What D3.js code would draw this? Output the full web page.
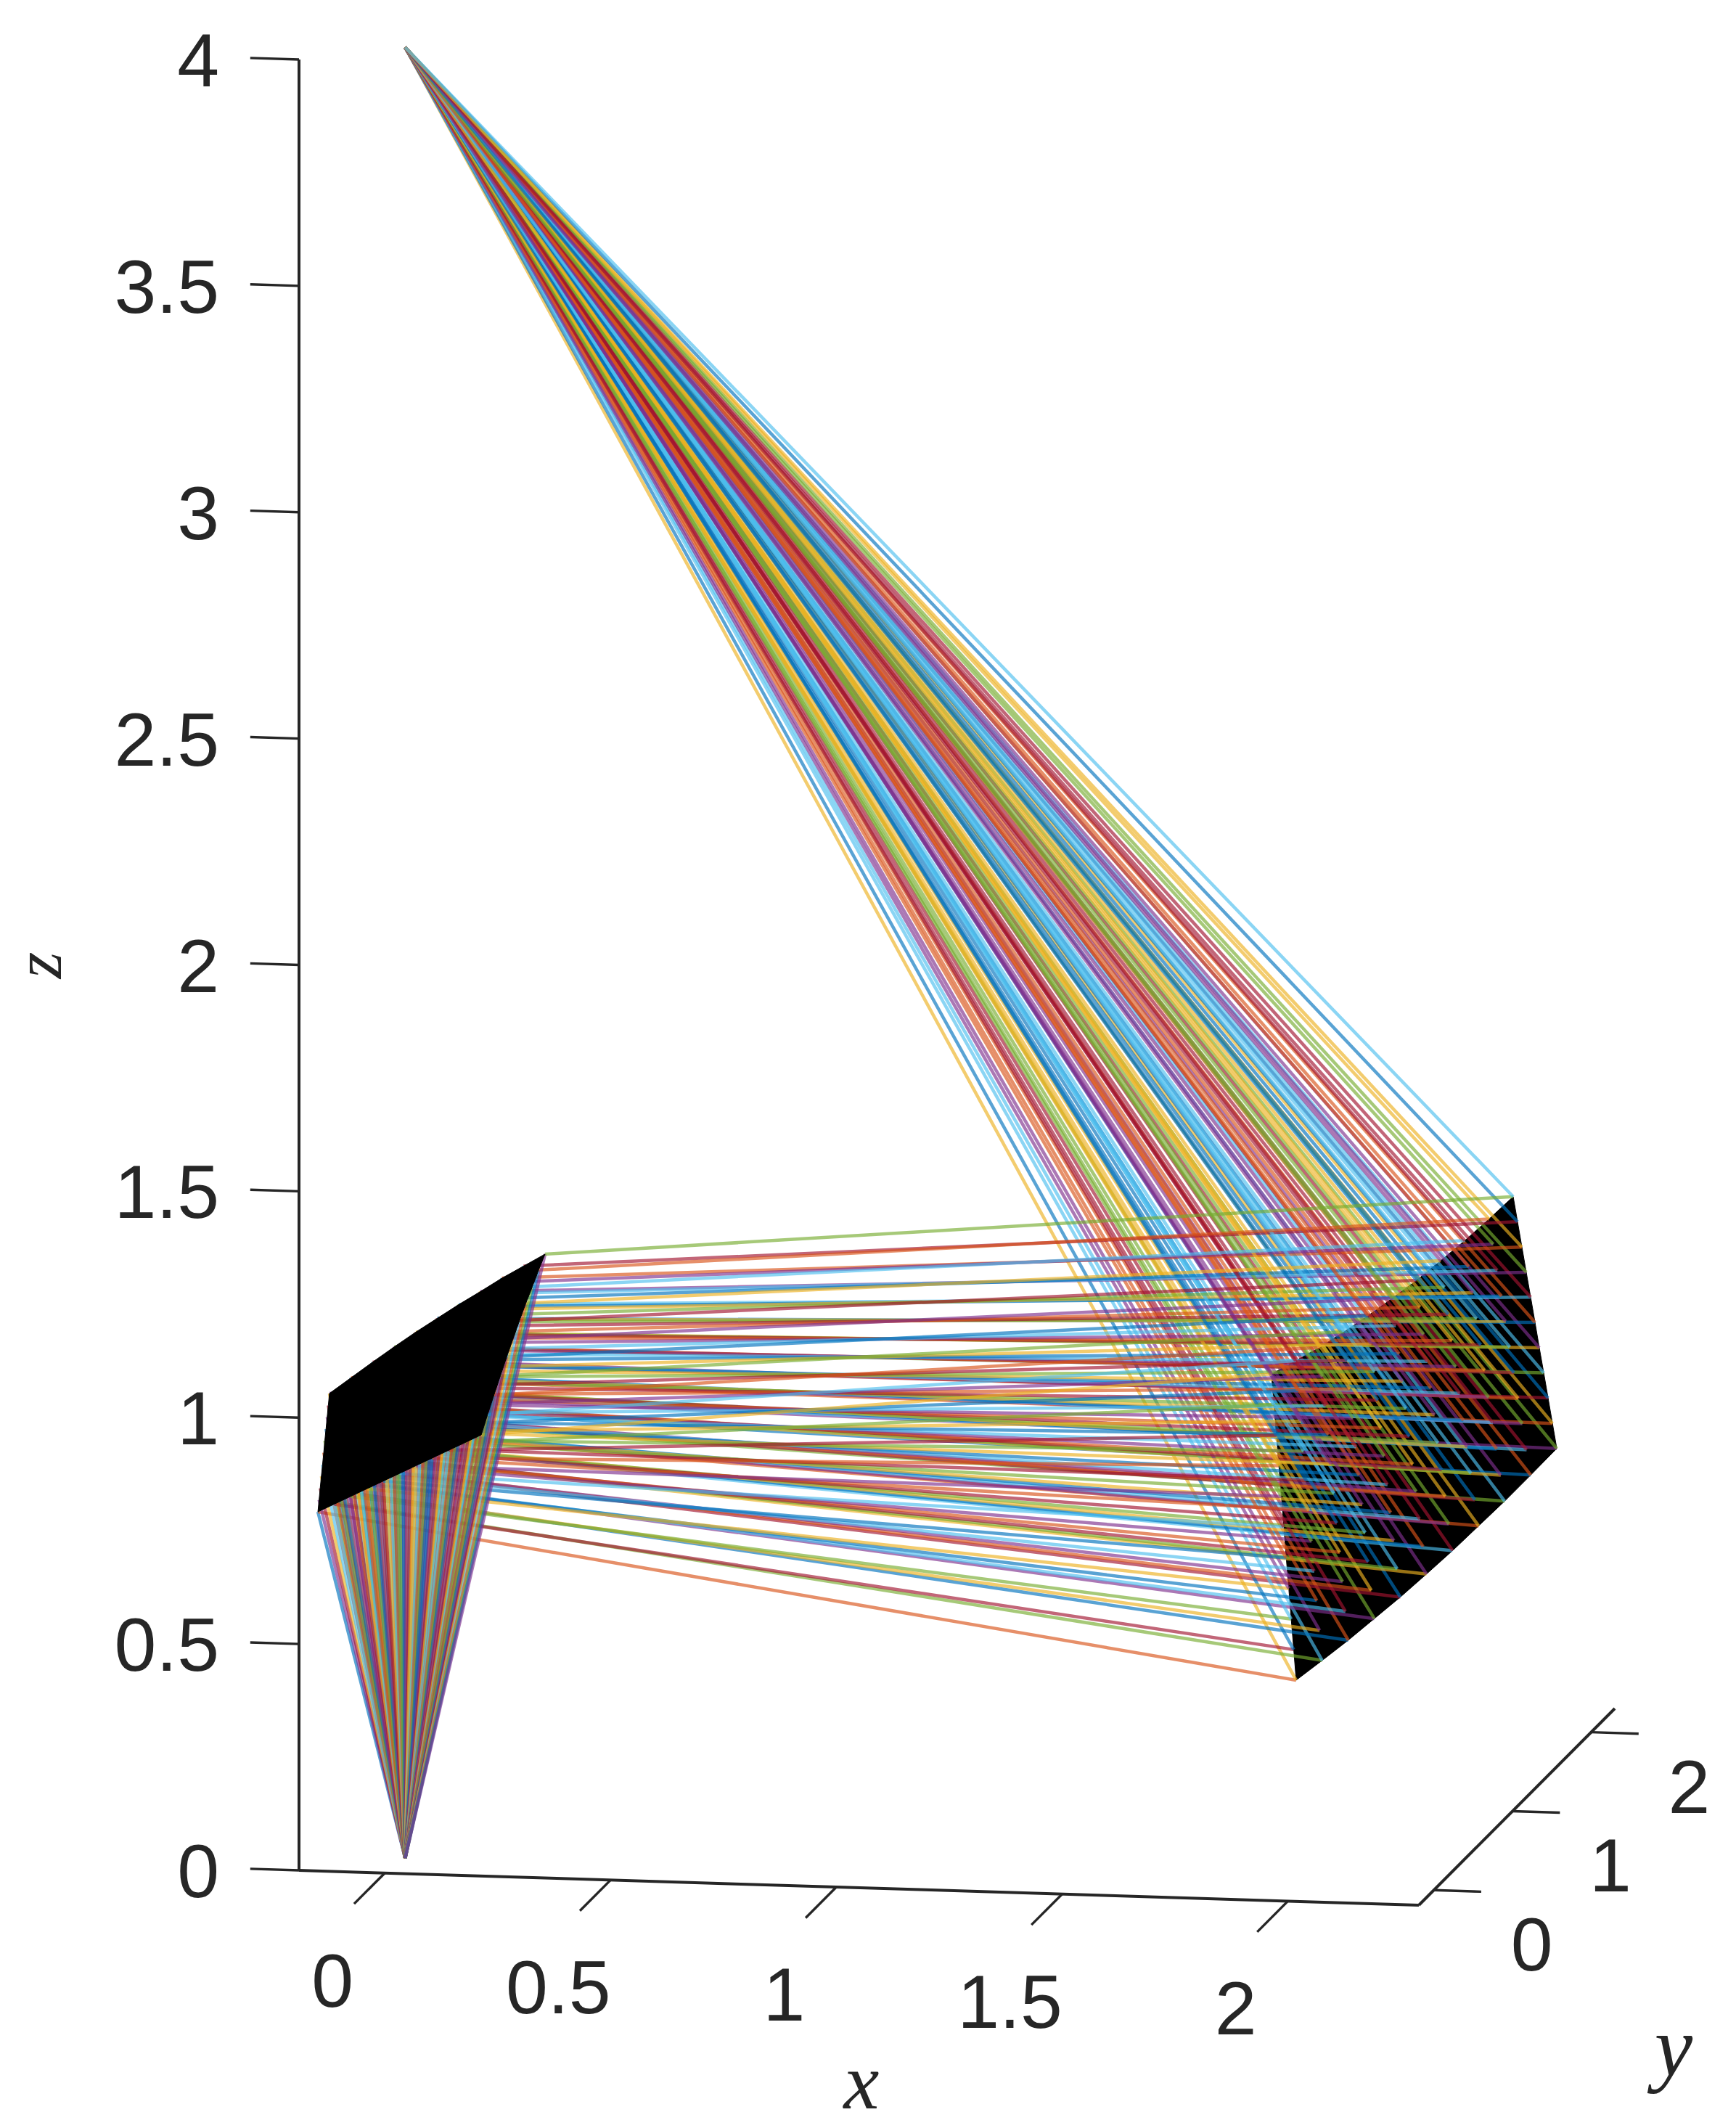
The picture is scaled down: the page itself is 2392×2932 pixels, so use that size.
<!DOCTYPE html>
<html>
<head>
<meta charset="utf-8">
<style>
  html, body { margin: 0; padding: 0; background: #fff; }
  svg { display: block; filter: blur(0.7px); }
  text { fill: #262626; font-family: "Liberation Sans", Arial, sans-serif; font-size: 104px; }
  .math { font-family: "Liberation Serif", serif; font-style: italic; font-size: 118px; }
</style>
</head>
<body>
<svg id="chart" width="2392" height="2932"></svg>
<script src="https://cdn.jsdelivr.net/npm/d3@7/dist/d3.min.js"></script>
<script>
// axis limits and tick labels
const xLim = [-0.19, 2.29]
const yLim = [-0.19, 2.3]
const zLim = [0, 4]
const xTicks = [0, 0.5, 1, 1.5, 2]
const yTicks = [0, 1, 2]
const zTicks = [0, 0.5, 1, 1.5, 2, 2.5, 3, 3.5, 4]

// matlab default line colours
const lineColors = ["#0072BD", "#D95319", "#EDB120", "#7E2F8E", "#77AC30", "#4DBEEE", "#A2142F"]

// where the rays start and where they end
const sourcePoint = [0.012, 0, 0]
const focusPoint = [0.012, 0, 4]

// first surface, 11 x 11 hit points: x by column, y and z by [row][column]
const surface1X = [-0.19, -0.152, -0.114, -0.076, -0.038, 0, 0.038, 0.076, 0.114, 0.152, 0.19]
const surface1Y = [
	[0.050, 0.040, 0.029, 0.019, 0.008, -0.003, -0.013, -0.024, -0.034, -0.045, -0.055],
	[0.065, 0.061, 0.057, 0.054, 0.049, 0.045, 0.042, 0.037, 0.034, 0.030, 0.026],
	[0.079, 0.083, 0.085, 0.088, 0.091, 0.093, 0.096, 0.098, 0.102, 0.104, 0.107],
	[0.094, 0.104, 0.113, 0.123, 0.132, 0.141, 0.151, 0.160, 0.169, 0.179, 0.188],
	[0.109, 0.125, 0.141, 0.157, 0.173, 0.189, 0.205, 0.221, 0.237, 0.253, 0.269],
	[0.124, 0.147, 0.169, 0.192, 0.214, 0.237, 0.260, 0.282, 0.305, 0.328, 0.351],
	[0.138, 0.168, 0.197, 0.227, 0.256, 0.285, 0.314, 0.343, 0.373, 0.402, 0.432],
	[0.153, 0.189, 0.225, 0.261, 0.297, 0.333, 0.369, 0.404, 0.441, 0.477, 0.513],
	[0.168, 0.210, 0.253, 0.296, 0.338, 0.381, 0.423, 0.466, 0.508, 0.551, 0.594],
	[0.182, 0.232, 0.281, 0.330, 0.380, 0.429, 0.478, 0.527, 0.576, 0.626, 0.675],
	[0.197, 0.253, 0.309, 0.365, 0.421, 0.477, 0.532, 0.588, 0.644, 0.700, 0.756]
]
const surface1Z = [
	[0.750, 0.770, 0.790, 0.810, 0.830, 0.850, 0.870, 0.890, 0.910, 0.930, 0.950],
	[0.774, 0.794, 0.816, 0.836, 0.858, 0.878, 0.899, 0.919, 0.940, 0.960, 0.981],
	[0.797, 0.819, 0.842, 0.863, 0.884, 0.906, 0.927, 0.948, 0.969, 0.989, 1.010],
	[0.821, 0.844, 0.866, 0.889, 0.911, 0.933, 0.955, 0.976, 0.998, 1.018, 1.038],
	[0.844, 0.868, 0.892, 0.915, 0.938, 0.960, 0.982, 1.003, 1.025, 1.045, 1.066],
	[0.868, 0.892, 0.917, 0.941, 0.964, 0.987, 1.009, 1.030, 1.051, 1.072, 1.092],
	[0.892, 0.916, 0.942, 0.966, 0.989, 1.011, 1.035, 1.056, 1.077, 1.097, 1.118],
	[0.915, 0.940, 0.966, 0.990, 1.014, 1.036, 1.060, 1.081, 1.102, 1.122, 1.142],
	[0.939, 0.965, 0.990, 1.014, 1.039, 1.061, 1.084, 1.105, 1.127, 1.145, 1.164],
	[0.962, 0.988, 1.014, 1.039, 1.063, 1.085, 1.108, 1.128, 1.150, 1.168, 1.187],
	[0.986, 1.012, 1.038, 1.063, 1.087, 1.109, 1.131, 1.151, 1.172, 1.190, 1.208]
]

// second surface, same layout but x goes by row
const surface2X = [1.95, 1.984, 2.018, 2.052, 2.086, 2.12, 2.154, 2.188, 2.222, 2.256, 2.29]
const surface2Y = [
	[0.202, 0.171, 0.139, 0.108, 0.076, 0.045, 0.014, -0.018, -0.049, -0.081, -0.112],
	[0.338, 0.305, 0.270, 0.237, 0.203, 0.169, 0.136, 0.101, 0.068, 0.034, 0.000],
	[0.474, 0.438, 0.402, 0.366, 0.329, 0.293, 0.257, 0.221, 0.185, 0.148, 0.112],
	[0.610, 0.572, 0.533, 0.495, 0.456, 0.417, 0.379, 0.340, 0.302, 0.263, 0.224],
	[0.746, 0.706, 0.664, 0.624, 0.582, 0.541, 0.501, 0.459, 0.419, 0.377, 0.336],
	[0.883, 0.840, 0.796, 0.753, 0.709, 0.666, 0.623, 0.579, 0.536, 0.492, 0.449],
	[1.019, 0.973, 0.927, 0.881, 0.835, 0.790, 0.744, 0.698, 0.652, 0.606, 0.561],
	[1.155, 1.107, 1.058, 1.010, 0.962, 0.914, 0.866, 0.817, 0.769, 0.721, 0.673],
	[1.291, 1.241, 1.189, 1.139, 1.088, 1.038, 0.988, 0.936, 0.886, 0.835, 0.785],
	[1.427, 1.374, 1.321, 1.268, 1.215, 1.162, 1.109, 1.056, 1.003, 0.950, 0.897],
	[1.563, 1.508, 1.452, 1.397, 1.341, 1.286, 1.231, 1.175, 1.120, 1.064, 1.009]
]
const surface2Z = [
	[0.418, 0.491, 0.564, 0.637, 0.710, 0.784, 0.857, 0.930, 1.003, 1.076, 1.149],
	[0.439, 0.511, 0.583, 0.654, 0.726, 0.800, 0.872, 0.943, 1.015, 1.088, 1.160],
	[0.461, 0.531, 0.603, 0.674, 0.745, 0.817, 0.888, 0.959, 1.029, 1.101, 1.171],
	[0.486, 0.555, 0.625, 0.696, 0.765, 0.837, 0.906, 0.976, 1.047, 1.117, 1.187],
	[0.511, 0.580, 0.650, 0.719, 0.788, 0.858, 0.927, 0.996, 1.066, 1.135, 1.204],
	[0.539, 0.607, 0.676, 0.744, 0.812, 0.881, 0.950, 1.018, 1.086, 1.156, 1.224],
	[0.568, 0.635, 0.704, 0.771, 0.838, 0.908, 0.975, 1.042, 1.110, 1.178, 1.245],
	[0.600, 0.666, 0.733, 0.800, 0.867, 0.935, 1.002, 1.068, 1.135, 1.203, 1.270],
	[0.632, 0.698, 0.765, 0.832, 0.897, 0.965, 1.030, 1.097, 1.163, 1.230, 1.296],
	[0.667, 0.732, 0.799, 0.864, 0.930, 0.996, 1.062, 1.127, 1.193, 1.260, 1.325],
	[0.703, 0.768, 0.834, 0.899, 0.964, 1.030, 1.095, 1.160, 1.225, 1.291, 1.356]
]

// oblique view of the 3d box, every axis adds a bit to screen x and y
const xToPx = d3.scaleLinear().domain(xLim).range([412, 1955])
const yToPx = d3.scaleLinear().domain(yLim).range([0, 270])
const zToPy = d3.scaleLinear().domain(zLim).range([2577, 82])
const xToPy = d3.scaleLinear().domain(xLim).range([0, 48])
const yToPy = d3.scaleLinear().domain(yLim).range([0, -271])

function project(p) {
	return [xToPx(p[0]) + yToPx(p[1]), zToPy(p[2]) + xToPy(p[0]) + yToPy(p[1])]
}

const line3d = d3.line().x(d => project(d)[0]).y(d => project(d)[1])

function hit1(row, col) {
	return [surface1X[col], surface1Y[row][col], surface1Z[row][col]]
}
function hit2(row, col) {
	return [surface2X[row], surface2Y[row][col], surface2Z[row][col]]
}

// walk around the edge of a surface grid
function outline(hit) {
	let pts = []
	const last = surface1X.length - 1
	for (let c = 0; c <= last; c++) pts.push(hit(0, c))
	for (let r = 1; r <= last; r++) pts.push(hit(r, last))
	for (let c = last - 1; c >= 0; c--) pts.push(hit(last, c))
	for (let r = last - 1; r > 0; r--) pts.push(hit(r, 0))
	return pts
}

const svg = d3.select("#chart")

// second surface sits behind the rays
svg.append("path")
	.attr("d", line3d(outline(hit2)) + "Z")
	.attr("fill", "#000")
	.attr("stroke", "#000")

// every ray is three separate lines, so the colour moves on at each leg
let segments = []
let colorIndex = 0
surface1X.forEach((_, col) => {
	surface1Y.forEach((_, row) => {
		const a = hit1(row, col)
		const b = hit2(row, col)
		segments.push({ pts: [sourcePoint, a], color: lineColors[colorIndex++ % 7] })
		segments.push({ pts: [a, b], color: lineColors[colorIndex++ % 7] })
		segments.push({ pts: [b, focusPoint], color: lineColors[colorIndex++ % 7] })
	})
})

svg.append("g")
	.attr("fill", "none")
	.attr("stroke-width", 4.5)
	.attr("stroke-opacity", 0.65)
	.selectAll("path")
	.data(segments)
	.join("path")
	.attr("stroke", d => d.color)
	.attr("d", d => line3d(d.pts))

// first surface hides the rays behind it
svg.append("path")
	.attr("d", line3d(outline(hit1)) + "Z")
	.attr("fill", "#000")
	.attr("stroke", "#000")

// axes
const axisColor = "#262626"
const axes = svg.append("g").attr("fill", "none").attr("stroke", axisColor)

axes.append("path").attr("stroke-width", 4)
	.attr("d", line3d([[xLim[0], yLim[0], zLim[0]], [xLim[0], yLim[0], zLim[1]]]))
axes.append("path").attr("stroke-width", 4)
	.attr("d", line3d([[xLim[0], yLim[0], 0], [xLim[1], yLim[0], 0]]))
axes.append("path").attr("stroke-width", 4)
	.attr("d", line3d([[xLim[1], yLim[0], 0], [xLim[1], yLim[1], 0]]))

const tickWidth = 3.4
axes.selectAll(".tick-x").data(xTicks).join("path").attr("class", "tick-x")
	.attr("stroke-width", tickWidth)
	.attr("d", d => line3d([[d, yLim[0], 0], [d, yLim[0] - 0.39, 0]]))
axes.selectAll(".tick-y").data(yTicks).join("path").attr("class", "tick-y")
	.attr("stroke-width", tickWidth)
	.attr("d", d => line3d([[xLim[1], d, 0], [xLim[1] + 0.105, d, 0]]))
axes.selectAll(".tick-z").data(zTicks).join("path").attr("class", "tick-z")
	.attr("stroke-width", tickWidth)
	.attr("d", d => line3d([[xLim[0], yLim[0], d], [xLim[0] - 0.108, yLim[0], d]]))

// tick labels
svg.append("g").selectAll("text").data(xTicks).join("text")
	.attr("text-anchor", "middle")
	.attr("x", d => project([d, yLim[0], 0])[0] - 72)
	.attr("y", d => project([d, yLim[0], 0])[1] + 184)
	.text(d => d)
svg.append("g").selectAll("text").data(yTicks).join("text")
	.attr("text-anchor", "middle")
	.attr("x", d => project([xLim[1], d, 0])[0] + 135)
	.attr("y", d => project([xLim[1], d, 0])[1] + 111)
	.text(d => d)
svg.append("g").selectAll("text").data(zTicks).join("text")
	.attr("text-anchor", "end")
	.attr("x", 302)
	.attr("y", d => zToPy(d) + 37)
	.text(d => d)

// axis labels, kept inside the page
svg.append("text").attr("class", "math").attr("text-anchor", "middle")
	.style("font-size", "110px")
	.attr("x", 1187).attr("y", 2905).text("x")
svg.append("text").attr("class", "math").attr("text-anchor", "middle")
	.attr("x", 2306).attr("y", 2860).text("y")
svg.append("text").attr("class", "math").attr("text-anchor", "middle")
	.style("font-size", "94px")
	.attr("transform", "translate(84,1330) rotate(-90)").text("z")
</script>
</body>
</html>
